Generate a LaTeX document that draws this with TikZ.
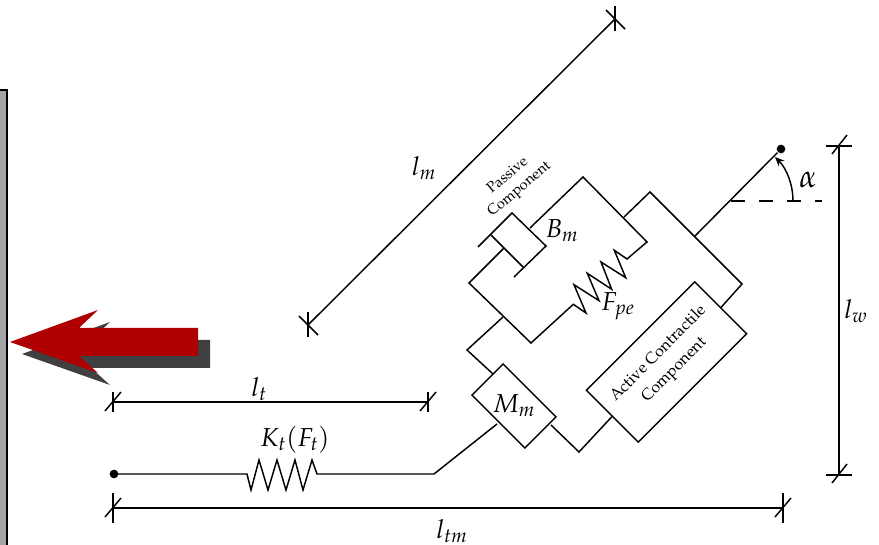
\documentclass[tikz,border=0pt]{standalone}
\usepackage[T1]{fontenc}
\usepackage{mathpazo}
\usepackage{xcolor}
\usetikzlibrary{arrows.meta}
\definecolor{WallGray}{RGB}{166,166,166}
\definecolor{ForceRed}{RGB}{174,0,0}
\definecolor{ForceShadow}{RGB}{64,64,64}

\begin{document}
\begin{tikzpicture}[
          x=0.75pt, y=-0.75pt, line width=1.1pt, line join=miter,
          cbox/.style={rectangle, draw, rotate=45, inner sep=0pt, outer sep=0pt, align=center},
          sym/.style={font=\fontsize{19.5}{22}\selectfont, inner sep=0pt},
          boxtext/.style={font=\fontsize{11}{13.5}\selectfont, rotate=40, align=center, inner sep=0pt},
          dot/.style={circle, fill=black, inner sep=0pt, minimum size=6.5pt}
        ]
        \useasboundingbox (0,0) rectangle (879,545);

        % Wall and force arrow
        \draw[fill=WallGray, line width=1.5pt] (-5,90) -- (7,90) -- (7,560) -- (-5,560) -- cycle;
        \fill[ForceShadow] (22,354) -- (110,322) -- (91,340) -- (210,340)
              -- (210,368) -- (91,368) -- (110,385) -- cycle;
        \fill[ForceRed] (10,342) -- (98,310) -- (79,328) -- (198,328)
              -- (198,356) -- (79,356) -- (98,373) -- cycle;

        % Contractile and mass boxes
        \node[cbox, minimum width=115pt, minimum height=55pt, font=\fontsize{12}{17}\selectfont]
              (active) at (666.5,362) {Active Contractile\\Component};
        \node[cbox, minimum width=33pt, minimum height=56pt] (mass) at (514,406) {};
        \node[sym] (mm) at (514,406) {$M_m$};

        % Junction points
        \coordinate (massTop) at (493,374);
        \coordinate (massLow) at (551,425);
        \coordinate (tendonEnd) at (497,424);
        \coordinate (ctrTop) at (650,192);
        \coordinate (ctrRight) at (742,284);
        \coordinate (pasRight) at (624,217);
        \coordinate (pasLow) at (503,317);
        \coordinate (outer) at (695,236);
        \node[dot] (origin) at (114,474) {};
        \node[dot] (insert) at (781,149) {};

        % Muscle frame
        \draw (active.east) -- (ctrRight) -- (ctrTop) -- (pasRight);
        \draw (outer) -- (insert);
        \draw (active.west) -- (579,452) -- (massLow);
        \draw (massTop) -- (467,350) -- (pasLow);

        % Passive component
        \draw (530,228) -- (583,177) -- (647,242) -- (627,259) -- (614.3,250.3)
              -- (625.7,277.7) -- (601,262) -- (611.7,289.3) -- (587.3,273.3)
              -- (599,300.7) -- (574,284.7) -- (586,313) -- (573.3,304.3)
              -- (531,343) -- (469,283) -- (504,248);
        % Damper
        \draw (478,247) -- (512,213) -- (546,246) -- (514,277);
        \draw (491,235) -- (523,267);

        % Tendon
        \draw (origin.center) -- (247,474) -- (251,490) -- (259,460) -- (268,490)
              -- (277,460) -- (286,490) -- (295,460) -- (303,490) -- (312,460)
              -- (317,474) -- (434,474) -- (tendonEnd);

        % Pennation angle
        \draw[dash pattern=on 10.5pt off 10.5pt] (731,201) -- (822,201);
        \draw[-{Stealth[length=7pt,width=6pt]}] (793,201) .. controls (793,184.6) and (786.6,168.6) .. (775,157);

        % Dimension lines
        \draw (113,402) -- (428,402);
        \draw (113,508) -- (783,508);
        \draw (839,146) -- (839,475);
        \draw (308,325) -- (615,19);
        \foreach \px/\py/\up in {113/402/10, 428/402/10, 113/508/15, 783/508/15}{
          \draw (\px,\py-\up) -- (\px,\py+\up);
          \draw (\px+8,\py-10) -- (\px-8,\py+9);
        }
        \foreach \py in {146,475}{
          \draw (826,\py) -- (852,\py);
          \draw (847,\py-11) -- (832,\py+8);
        }
        \foreach \px/\py in {615/19,308/325}{
          \draw (\px,\py-13) -- (\px,\py+12);
          \draw (\px-9,\py-9) -- (\px+10,\py+10);
        }

        % Labels
        \node[sym] (lm) at (424,168) {$l_m$};
        \node[sym] (lt) at (259,389) {$l_t$};
        \node[sym] (ltm) at (452,531) {$l_{tm}$};
        \node[sym] (lw) at (856,311) {$l_w$};
        \node[sym] (bm) at (562,231) {$B_m$};
        \node[sym] (fpe) at (618,306) {$F_{pe}$};
        \node[sym] (kt) at (295,440) {$K_t(F_t)$};
        \node[sym, font=\fontsize{24}{26}\selectfont] (alpha) at (808,180) {$\alpha$};
        \node[boxtext] (passive) at (514,183) {Passive\\Component};
      \end{tikzpicture}
\end{document}
